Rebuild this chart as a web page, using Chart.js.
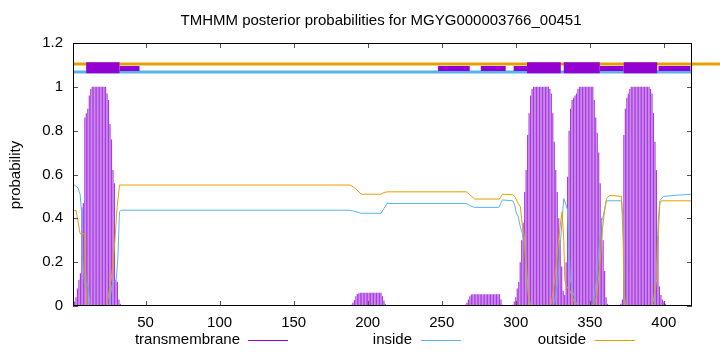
<!DOCTYPE html>
<html>
<head>
<meta charset="utf-8">
<script src="https://cdn.jsdelivr.net/npm/chart.js@4.4.1/dist/chart.umd.min.js"></script>
<style>
  body { margin: 0; background: #fff; }
  canvas { display: block; }
</style>
</head>
<body>
<canvas id="chart" width="720" height="352"></canvas>
<script>
// ================= DATA =================
const titleText = "TMHMM posterior probabilities for MGYG000003766_00451";
const xTicks = [50, 100, 150, 200, 250, 300, 350, 400];
const yTicks = [0, 0.2, 0.4, 0.6, 0.8, 1, 1.2];

// transmembrane posterior, one value per residue (1..419)
const tmProb = [
  0.01,0.02,0.04,0.08,0.12,0.15,0.45,0.47,0.86,0.88,
  0.90,0.96,0.99,1,1,1,1,1,1,1,
  1,1,1,0.97,0.94,0.83,0.76,0.62,0.56,0.12,
  0.11,0.03,0.01,0,0,0,0,0,0,0,
  0,0,0,0,0,0,0,0,0,0,
  0,0,0,0,0,0,0,0,0,0,
  0,0,0,0,0,0,0,0,0,0,
  0,0,0,0,0,0,0,0,0,0,
  0,0,0,0,0,0,0,0,0,0,
  0,0,0,0,0,0,0,0,0,0,
  0,0,0,0,0,0,0,0,0,0,
  0,0,0,0,0,0,0,0,0,0,
  0,0,0,0,0,0,0,0,0,0,
  0,0,0,0,0,0,0,0,0,0,
  0,0,0,0,0,0,0,0,0,0,
  0,0,0,0,0,0,0,0,0,0,
  0,0,0,0,0.003,0.003,0.003,0.003,0.003,0.003,
  0.003,0.003,0.003,0.003,0.003,0.003,0.003,0.003,0.003,0.003,
  0.003,0.003,0.003,0.003,0.003,0.003,0.003,0.004,0.006,0.015,
  0.027,0.045,0.055,0.058,0.061,0.061,0.061,0.061,0.061,0.061,
  0.061,0.061,0.061,0.061,0.061,0.061,0.061,0.061,0.061,0.045,
  0.025,0.01,0.005,0.003,0.003,0.003,0.003,0.003,0.003,0.003,
  0.003,0.003,0.003,0.003,0.003,0.003,0.003,0.003,0.003,0.003,
  0.003,0.003,0.003,0.003,0.003,0.003,0.003,0.003,0.003,0.003,
  0.003,0.003,0.003,0.003,0.003,0.003,0.003,0.003,0.003,0.003,
  0.003,0.003,0.003,0.003,0.003,0.003,0.003,0.003,0.003,0.003,
  0.003,0.003,0.003,0.003,0.003,0.006,0.015,0.03,0.045,0.052,
  0.054,0.054,0.054,0.054,0.054,0.054,0.054,0.054,0.054,0.054,
  0.054,0.054,0.054,0.054,0.054,0.054,0.054,0.054,0.054,0.03,
  0.006,0.003,0.003,0.003,0.003,0.003,0.003,0.006,0.02,0.04,
  0.08,0.11,0.2,0.3,0.38,0.52,0.62,0.78,0.88,0.96,
  0.99,1,1,1,1,1,1,1,1,1,
  1,1,0.99,0.97,0.88,0.75,0.62,0.52,0.40,0.30,
  0.18,0.07,0.05,0.2,0.59,0.8,0.9,0.94,0.95,0.96,
  0.97,0.99,1,1,1,1,1,1,1,1,
  1,1,0.94,0.86,0.79,0.70,0.56,0.40,0.30,0.16,
  0.04,0.01,0.003,0.003,0.003,0.003,0.003,0.003,0.003,0.003,
  0.01,0.03,0.78,0.90,0.95,0.97,0.99,1,1,1,
  1,1,1,1,1,1,1,1,1,1,
  0.99,0.97,0.88,0.75,0.62,0.32,0.09,0.05,0.03,0.02,
  0.01,0,0,0,0,0,0,0,0,0,
  0,0,0,0,0,0,0,0,0
];

// inside / outside curves (vertices)
const insideRes = [1,4.3,5.8,7,7.6,8.8,11,12.6,13,25,
  25.7,27.5,30.2,31.3,32.4,33.5,188,191,195.7,209,
  211,213,266.7,269,272,288.6,290,291,298,299.3,
  300.5,301.6,303.1,304.5,306,307.4,309,309.5,325,326.3,
  328.5,330.8,332.4,333.5,334.9,336,336.9,338.7,340.5,342,
  352.2,354.5,356.7,357.9,359,361.2,371.4,372.5,373.2,374.1,
  392.8,393.9,395.1,396.2,397.3,399.6,407.5,419];
const insideProb = [0.557,0.54,0.51,0.41,0.21,0.10,0.10,0.005,0,0,
  0.02,0.10,0.12,0.22,0.43,0.437,0.437,0.432,0.423,0.423,
  0.445,0.468,0.468,0.458,0.45,0.45,0.47,0.484,0.48,0.46,
  0.42,0.41,0.36,0.33,0.28,0.12,0.02,0,0,0.02,
  0.12,0.35,0.49,0.47,0.44,0.27,0.12,0.06,0.02,0,
  0,0.12,0.30,0.39,0.41,0.48,0.48,0.40,0.07,0,
  0,0.02,0.18,0.39,0.48,0.50,0.505,0.51];

const outsideRes = [1,3.1,4.3,5.8,8.8,9.4,10.3,23.9,25.2,26.8,
  29,30.8,32.4,188,191,195.7,209,211,213.5,266.7,
  268.5,272.3,289,291,298,299.3,301.6,303.1,304.5,306.1,
  307.2,309,309.4,323,324,326.3,328.5,330.4,331.3,332.4,
  333.1,334.2,336.5,338.3,339.9,341,351,353,354.5,356.7,
  358.5,360.1,361.2,363.5,371.4,372.5,373.2,374,391.7,392.8,
  395.1,396.2,397.3,398.4,419];
const outsideProb = [0.438,0.435,0.39,0.33,0.33,0.18,0,0,0.06,0.12,
  0.27,0.45,0.552,0.552,0.54,0.51,0.51,0.518,0.521,0.521,
  0.51,0.488,0.488,0.51,0.508,0.50,0.468,0.453,0.362,0.30,
  0.18,0.01,0,0,0.01,0.12,0.27,0.39,0.43,0.30,
  0.12,0.09,0.07,0.04,0.01,0,0,0.01,0.04,0.18,
  0.35,0.44,0.49,0.505,0.50,0.30,0.03,0,0,0.02,
  0.12,0.32,0.47,0.48,0.48];

// predicted segments shown above the plot
const helixFrom = [9.9, 307.6, 332.4, 372.9];
const helixTo   = [32.4, 330.4, 356.7, 395.5];
const loopFrom  = [32.4, 247.5, 276.4, 298.6, 356.7, 396.4];
const loopTo    = [45.9, 268.9, 293.2, 307.6, 372.9, 418];

// ================= HELPERS =================
function segments(from, to, level) {
  const pts = [];
  from.forEach((f, i) => {
    pts.push({ x: f, y: level }, { x: to[i], y: level }, { x: to[i], y: null });
  });
  return pts;
}

const FONT = "'Liberation Sans', Arial, sans-serif";
const PURPLE = "#9400d3", BLUE = "#56b4e9", ORANGE = "#e69f00";

// ================= DECOR PLUGIN =================
const decor = {
  id: "decor",
  afterDraw(chart) {
    const { ctx, chartArea: a, scales: { x, y } } = chart;
    ctx.save();

    // inward ticks on all sides
    ctx.strokeStyle = "#555";
    ctx.lineWidth = 1;
    ctx.beginPath();
    xTicks.forEach(v => {
      const px = Math.round(x.getPixelForValue(v)) + 0.5;
      ctx.moveTo(px, a.bottom); ctx.lineTo(px, a.bottom - 5);
      ctx.moveTo(px, a.top); ctx.lineTo(px, a.top + 5);
    });
    yTicks.forEach(v => {
      const py = Math.round(y.getPixelForValue(v)) + 0.5;
      ctx.moveTo(a.left, py); ctx.lineTo(a.left + 5, py);
      ctx.moveTo(a.right, py); ctx.lineTo(a.right - 5, py);
    });
    ctx.stroke();

    // border
    ctx.strokeStyle = "#000";
    ctx.strokeRect(a.left + 0.5, a.top + 0.5, a.right - a.left - 1, a.bottom - a.top - 1);

    // title
    ctx.fillStyle = "#000";
    ctx.font = "15px " + FONT;
    ctx.textAlign = "center";
    ctx.textBaseline = "middle";
    ctx.fillText(titleText, 381, 21);

    // y label
    ctx.save();
    ctx.translate(16, 175);
    ctx.rotate(-Math.PI / 2);
    ctx.fillText("probability", 0, 0);
    ctx.restore();

    // legend
    const legend = [
      ["transmembrane", 240, 248, PURPLE],
      ["inside", 412, 421, BLUE],
      ["outside", 586, 595, ORANGE]
    ];
    ctx.textAlign = "right";
    legend.forEach(([label, tx, lx, col]) => {
      ctx.fillStyle = "#000";
      ctx.fillText(label, tx, 340);
      ctx.strokeStyle = col;
      ctx.beginPath();
      ctx.moveTo(lx, 340.5); ctx.lineTo(lx + 40, 340.5);
      ctx.stroke();
    });

    ctx.restore();
  }
};

// ================= CHART =================
const ctx = document.getElementById("chart").getContext("2d");

new Chart(ctx, {
  type: "bar",
  data: {
    datasets: [
      {
        type: "line", label: "helix boxes",
        data: segments(helixFrom, helixTo, 1.0867),
        borderColor: PURPLE, borderWidth: 11, borderCapStyle: "butt",
        pointRadius: 0, spanGaps: false, clip: false
      },
      {
        type: "line", label: "loop boxes",
        data: segments(loopFrom, loopTo, 1.0835),
        borderColor: PURPLE, borderWidth: 5, borderCapStyle: "butt",
        pointRadius: 0, spanGaps: false, clip: false
      },
      {
        type: "line", label: "outside bar",
        data: [{ x: 1, y: 1.104 }, { x: 445, y: 1.104 }],
        borderColor: ORANGE, borderWidth: 3, pointRadius: 0, clip: false
      },
      {
        type: "line", label: "inside bar",
        data: [{ x: 1, y: 1.0675 }, { x: 419, y: 1.0675 }],
        borderColor: BLUE, borderWidth: 3, pointRadius: 0
      },
      {
        type: "line", label: "outside",
        data: outsideRes.map((r, i) => ({ x: r, y: outsideProb[i] })),
        borderColor: ORANGE, borderWidth: 1, pointRadius: 0, tension: 0
      },
      {
        type: "line", label: "inside",
        data: insideRes.map((r, i) => ({ x: r, y: insideProb[i] })),
        borderColor: BLUE, borderWidth: 1, pointRadius: 0, tension: 0
      },
      {
        type: "bar", label: "transmembrane",
        data: tmProb.map((p, i) => ({ x: i + 1, y: p })),
        backgroundColor: "#a83ae0",
        borderWidth: 0,
        barPercentage: 0.8,
        categoryPercentage: 1
      }
    ]
  },
  options: {
    responsive: false,
    animation: false,
    layout: { padding: { left: 0, top: 43, right: 28, bottom: 0 } },
    plugins: {
      legend: { display: false },
      tooltip: { enabled: false },
      title: { display: false }
    },
    scales: {
      x: {
        type: "linear",
        min: 1,
        max: 419,
        offset: false,
        grid: { display: false, drawTicks: false },
        border: { display: false },
        afterBuildTicks: s => { s.ticks = xTicks.map(v => ({ value: v })); },
        afterFit: s => { s.height = 46; },
        ticks: {
          color: "#000",
          font: { family: FONT, size: 15 },
          padding: 8,
          maxRotation: 0,
          autoSkip: false
        }
      },
      y: {
        min: 0,
        max: 1.2,
        grid: { display: false, drawTicks: false },
        border: { display: false },
        afterBuildTicks: s => { s.ticks = yTicks.map(v => ({ value: v })); },
        afterFit: s => { s.width = 73; },
        ticks: {
          color: "#000",
          font: { family: FONT, size: 15 },
          padding: 10,
          callback: v => String(+v.toFixed(1))
        }
      }
    }
  },
  plugins: [decor]
});
</script>
</body>
</html>
